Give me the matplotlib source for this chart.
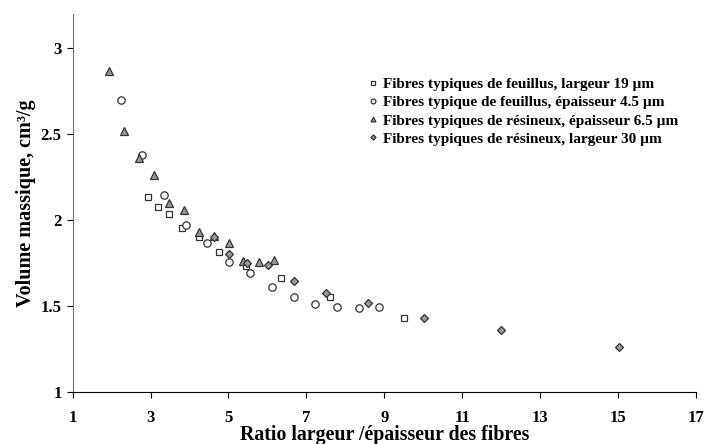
import numpy as np
import matplotlib
matplotlib.use('Agg')
import matplotlib.pyplot as plt

plt.rcParams['font.family'] = ['Liberation Serif', 'DejaVu Serif']
plt.rcParams['font.weight'] = 'bold'

# Fibres typiques de feuillus, largeur 19 um
sq_x = [2.94, 3.18, 3.47, 3.81, 4.25, 4.77, 5.44, 6.34, 7.62, 9.51]
sq_y = [2.135, 2.076, 2.033, 1.955, 1.903, 1.816, 1.733, 1.661, 1.552, 1.432]

# Fibres typique de feuillus, epaisseur 4.5 um
ci_x = [2.23, 2.78, 3.34, 3.90, 4.45, 5.02, 5.56, 6.12, 6.68, 7.22, 7.79, 8.34, 8.87]
ci_y = [2.70, 2.38, 2.147, 1.973, 1.865, 1.758, 1.692, 1.61, 1.552, 1.51, 1.494, 1.487, 1.496]

# Fibres typiques de resineux, epaisseur 6.5 um
tr_x = [1.94, 2.32, 2.71, 3.09, 3.47, 3.86, 4.25, 4.63, 5.02, 5.38, 5.78, 6.17]
tr_y = [2.87, 2.52, 2.36, 2.26, 2.10, 2.056, 1.93, 1.907, 1.865, 1.763, 1.756, 1.766]

# Fibres typiques de resineux, largeur 30 um
di_x = [4.63, 5.02, 5.47, 6.01, 6.68, 7.50, 8.59, 10.02, 12.01, 15.02]
di_y = [1.90, 1.80, 1.752, 1.74, 1.645, 1.577, 1.52, 1.432, 1.36, 1.263]

labels = ['Fibres typiques de feuillus, largeur 19 µm',
          'Fibres typique de feuillus, épaisseur 4.5 µm',
          'Fibres typiques de résineux, épaisseur 6.5 µm',
          'Fibres typiques de résineux, largeur 30 µm']

fig = plt.figure(figsize=(7.05, 4.44), dpi=100)
ax = fig.add_axes([0.103, 0.117, 0.884, 0.852])

ax.plot(sq_x, sq_y, 's', ms=5, mfc='white', mec='#333333', mew=0.9, label=labels[0])
ax.plot(ci_x, ci_y, 'o', ms=5.3, mfc='white', mec='#333333', mew=0.9, label=labels[1])
ax.plot(tr_x, tr_y, '^', ms=5.3, mfc='#999999', mec='#333333', mew=0.9, label=labels[2])
ax.plot(di_x, di_y, 'D', ms=4, mfc='#999999', mec='#333333', mew=0.9, label=labels[3])

ax.set_xlim(1, 17)
ax.set_ylim(1, 3.2)
ax.set_xticks(range(1, 18, 2))
ax.set_yticks([1, 1.5, 2, 2.5, 3])
ax.set_yticklabels(['1', '1.5', '2', '2.5', '3'])

for s in ['top', 'right']:
    ax.spines[s].set_visible(False)
ax.spines['left'].set_color('#707070')
ax.spines['bottom'].set_color('black')
ax.tick_params(direction='out', length=4, labelsize=12, pad=4)
ax.tick_params(axis='x', pad=9)
for t in ax.get_xticklabels() + ax.get_yticklabels():
    t.set_fontweight('bold')

ax.set_xlabel('Ratio largeur /épaisseur des fibres', fontsize=14.3, fontweight='bold', labelpad=-1)
ax.set_ylabel('Volume massique, cm³/g', fontsize=14.5, fontweight='bold', labelpad=3)

leg = ax.legend(loc='upper left', bbox_to_anchor=(0.475, 0.832), frameon=False,
                prop={'family': 'Liberation Serif', 'weight': 'bold', 'size': 11},
                markerscale=0.65, handlelength=0.6, handletextpad=0.35,
                labelspacing=0.3, borderpad=0, borderaxespad=0)

fig.savefig('out.png', dpi=100)
